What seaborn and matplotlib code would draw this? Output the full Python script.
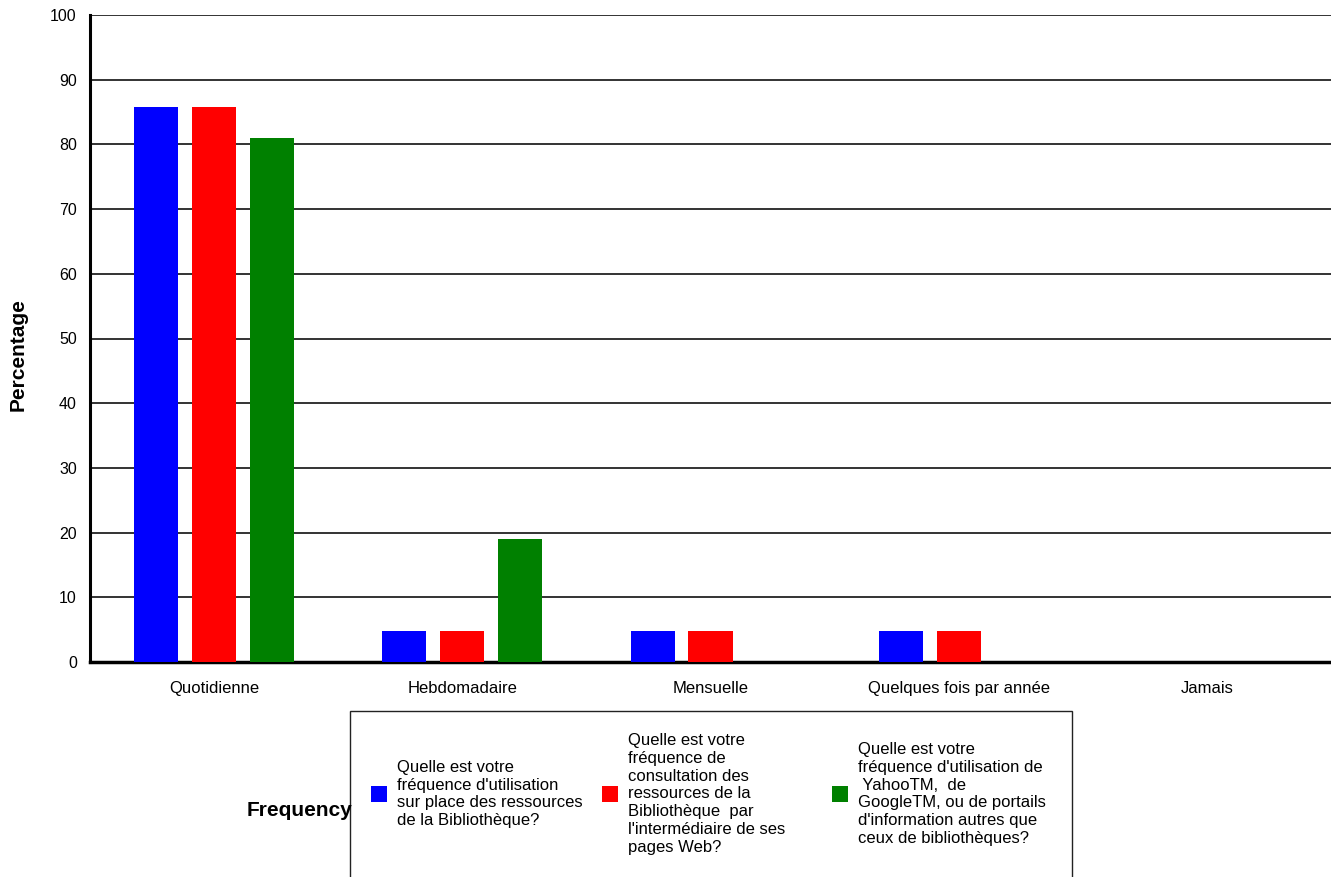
import numpy as np
import pandas as pd
import matplotlib
matplotlib.use("Agg")
import matplotlib.pyplot as plt
import seaborn as sns

categories = ['Quotidienne', 'Hebdomadaire', 'Mensuelle', 'Quelques fois par année', 'Jamais']
series = ['Sur place', 'Web', 'Yahoo/Google']
labels = ["Quelle est votre\nfréquence d'utilisation\nsur place des ressources\nde la Bibliothèque?",
          "Quelle est votre\nfréquence de\nconsultation des\nressources de la\nBibliothèque  par\nl'intermédiaire de ses\npages Web?",
          "Quelle est votre\nfréquence d'utilisation de\n YahooTM,  de\nGoogleTM, ou de portails\nd'information autres que\nceux de bibliothèques?"]
sur_place = [85.71, 4.76, 4.76, 4.76, 0]
web = [85.71, 4.76, 4.76, 4.76, 0]
yahoo = [80.95, 19.05, 0, 0, 0]
colors = ['#0000ff', '#ff0000', '#008000']

df = pd.DataFrame({'Frequency': categories * 3,
                   'Series': [s for s in series for _ in categories],
                   'Percentage': sur_place + web + yahoo})

sns.set_style('white')
plt.rcParams['font.family'] = ['Liberation Sans', 'DejaVu Sans']
plt.rcParams['text.color'] = 'black'
plt.rcParams['xtick.color'] = 'black'
plt.rcParams['ytick.color'] = 'black'

W, H = 1331, 877
fig = plt.figure(figsize=(W/100, H/100), dpi=100)
ax = fig.add_axes([90/W, 1-662/H, 1-90/W, (662-15)/H])

sns.barplot(data=df, x='Frequency', y='Percentage', hue='Series', palette=colors,
            width=0.7, gap=0.24, saturation=1, linewidth=0, ax=ax, legend=False, zorder=3)

ax.set_ylim(0, 100)
ax.set_xlim(-0.5, 4.5)
ax.set_yticks(range(0, 101, 10))
ax.yaxis.grid(True, color='#111111', linewidth=1.2)
ax.set_axisbelow(True)
ax.tick_params(axis='both', length=0)
ax.tick_params(axis='y', pad=9.5, labelsize=11.5)
ax.tick_params(axis='x', pad=14, labelsize=12)
ax.set_xlabel('')
ax.set_ylabel('')
for s in ['top', 'right']:
    ax.spines[s].set_visible(False)
ax.spines['left'].set_linewidth(2.2)
ax.spines['bottom'].set_linewidth(2.5)
ax.spines['left'].set_color('black')
ax.spines['bottom'].set_color('black')

fig.text(18/W, 1-355/H, 'Percentage', rotation=90, fontsize=15, fontweight='bold',
         ha='center', va='center')
fig.text(300/W, 1-810/H, 'Frequency', fontsize=15, fontweight='bold',
         ha='center', va='center')

# legend box drawn by hand so the three columns keep equal widths
frame = plt.Rectangle((350/W, -0.05), (1072-350)/W, 0.05+1-711/H, transform=fig.transFigure,
                      facecolor='white', edgecolor='#222222', linewidth=1)
fig.add_artist(frame)
cy = 1-794/H
for i, (lab, c) in enumerate(zip(labels, colors)):
    x0 = 371 + i*230.5
    fig.add_artist(plt.Rectangle((x0/W, cy-8/H), 16/W, 16/H, transform=fig.transFigure,
                                 facecolor=c, edgecolor='none'))
    fig.text((x0+26)/W, cy, lab, fontsize=12, ha='left', va='center', linespacing=1.24)

fig.savefig('out.png', dpi=100)
